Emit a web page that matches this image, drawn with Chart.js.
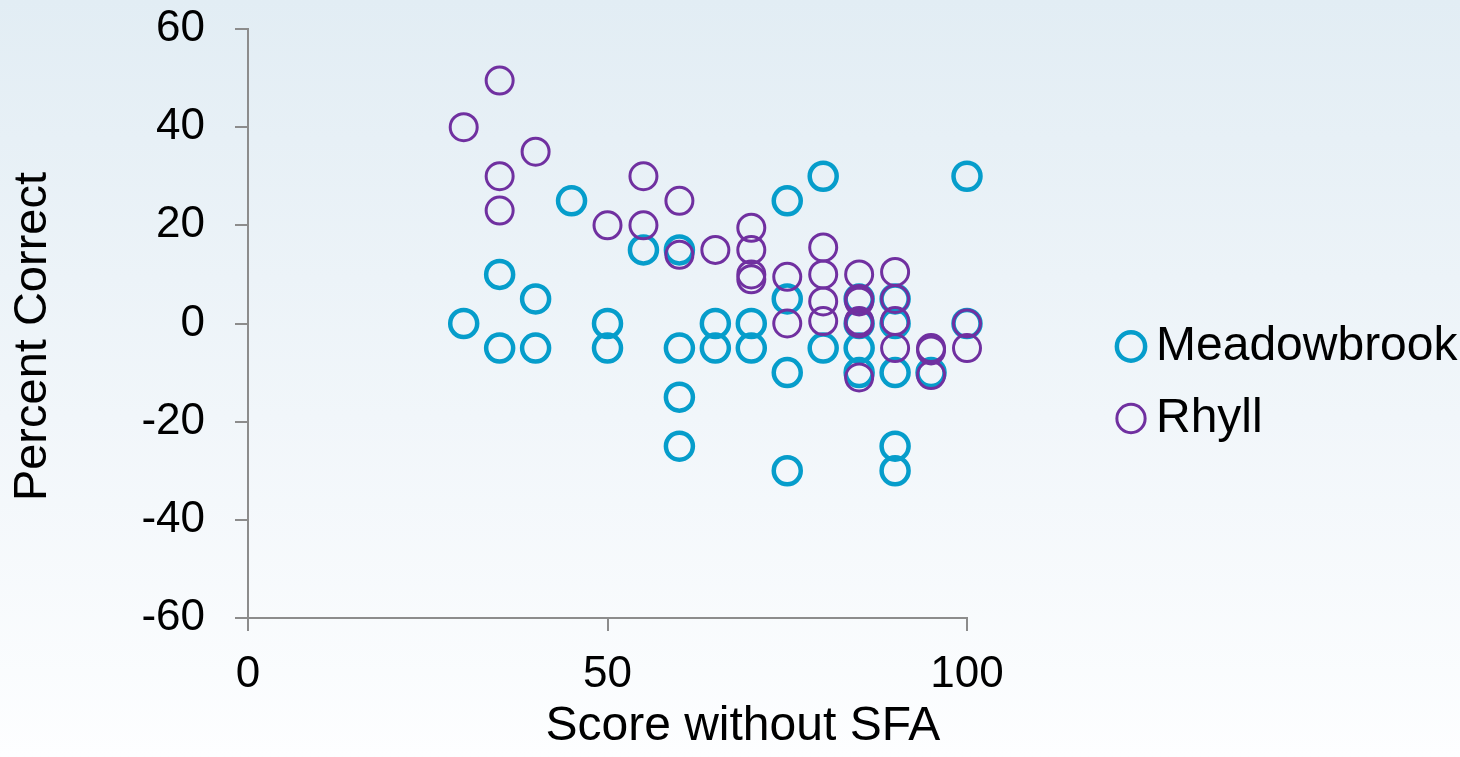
<!DOCTYPE html>
<html>
<head>
<meta charset="utf-8">
<script src="https://cdn.jsdelivr.net/npm/chart.js@4/dist/chart.umd.min.js"></script>
<style>
  html, body { margin: 0; padding: 0; }
  body { width: 1460px; height: 757px; background: linear-gradient(to bottom, #e2edf4 0%, #f1f6fa 55%, #fdfeff 100%); }
  #wrap { position: relative; width: 1460px; height: 757px; }
</style>
</head>
<body>
<div id="wrap"><canvas id="chart"></canvas></div>
<script>
// Score without SFA (x) vs Percent Correct (y)
const meadowX = [30, 35, 35, 40, 40, 45, 50, 50, 55, 60, 60, 60, 60, 65, 65, 70, 70, 75, 75, 75, 75, 80, 80, 85, 85, 85, 85, 90, 90, 90, 90, 90, 95, 100, 100]
const meadowY = [0, 10, -5, 5, -5, 25, 0, -5, 15, 15, -5, -15, -25, 0, -5, 0, -5, 25, 5, -10, -30, 30, -5, 5, 0, -5, -10, 5, 0, -10, -25, -30, -10, 30, 0]
const rhyllX = [30, 35, 35, 35, 40, 50, 55, 55, 60, 60, 65, 70, 70, 70, 70, 75, 75, 80, 80, 80, 80, 85, 85, 85, 85, 85, 85, 90, 90, 90, 90, 95, 95, 95, 100, 100]
const rhyllY = [40, 49.5, 30, 23, 35, 20, 30, 20, 25, 14, 15, 19.5, 15, 10, 9, 9.5, 0, 15.5, 10, 4.5, 0.5, 10, 5, 4.5, 0.5, 0, -11, 10.5, 5, 0.5, -5, -5, -5.5, -10.5, 0, -5]

const seriesNames = ["Meadowbrook", "Rhyll"]
const xTicks = [0, 50, 100]
const yTicks = [-60, -40, -20, 0, 20, 40, 60]

const cyan = "#069dcb"
const purple = "#7030a0"
const axisGray = "#8c8c8c"
const fontFamily = "'Liberation Sans', Arial, sans-serif"

const toPoints = (xs, ys) => xs.map((x, i) => ({x: x, y: ys[i]}))

// legend sits well to the right of the plot, not glued to it
const legendShift = {
	id: 'legendShift',
	afterLayout(chart) {
		const lg = chart.legend
		if (!lg) { return }
		lg.left += 139
		lg.right += 139
	}
}

const ctx = document.getElementById("chart")
let chart = new Chart(ctx, {
	type: 'scatter',
	data: {
		datasets: [
			{
				label: seriesNames[0], data: toPoints(meadowX, meadowY), order: 2, clip: false,
				pointRadius: 13.5, pointHoverRadius: 13.5, pointBorderWidth: 4.5,
				pointBorderColor: cyan, pointBackgroundColor: "rgba(0,0,0,0)",
				borderColor: cyan, backgroundColor: "rgba(0,0,0,0)"
			},
			{
				label: seriesNames[1], data: toPoints(rhyllX, rhyllY), order: 1, clip: false,
				pointRadius: 13.5, pointHoverRadius: 13.5, pointBorderWidth: 3,
				pointBorderColor: purple, pointBackgroundColor: "rgba(0,0,0,0)",
				borderColor: purple, backgroundColor: "rgba(0,0,0,0)"
			}
		]
	},
	plugins: [legendShift],
	options: {
		responsive: true,
		maintainAspectRatio: false,
		animation: false,
		layout: { padding: { top: 8, right: 0, bottom: 0, left: 0 } },
		plugins: {
			tooltip: { enabled: false },
			legend: {
				position: 'right',
				labels: {
					usePointStyle: true,
					boxWidth: 2,
					boxHeight: 20,
					padding: 24,
					color: "#000",
					font: { family: fontFamily, size: 48 },
					sort: (a, b) => a.datasetIndex - b.datasetIndex
				}
			}
		},
		scales: {
			x: {
				type: 'linear',
				min: 0, max: 100,
				afterBuildTicks: s => { s.ticks = xTicks.map(v => ({value: v})) },
				afterFit: s => { s.height = 139; s.paddingRight = 493 },
				grid: { drawOnChartArea: false, tickLength: 13, color: axisGray, lineWidth: 2 },
				border: { color: axisGray, width: 2 },
				ticks: { color: "#000", padding: 17, maxRotation: 0, font: { family: fontFamily, size: 44 } },
				title: { display: true, align: 'end', text: "Score without SFA  ", color: "#000", font: { family: fontFamily, size: 48 }, padding: { top: 4, bottom: 1 } }
			},
			y: {
				type: 'linear',
				min: -60, max: 60,
				afterBuildTicks: s => { s.ticks = yTicks.map(v => ({value: v})) },
				afterFit: s => { s.width = 248; s.paddingTop = 29 },
				grid: { drawOnChartArea: false, tickLength: 13, color: axisGray, lineWidth: 2 },
				border: { color: axisGray, width: 2 },
				ticks: { color: "#000", padding: 30, font: { family: fontFamily, size: 44 } },
				title: { display: true, text: "Percent Correct  ", color: "#000", font: { family: fontFamily, size: 47 }, padding: { top: 5, bottom: 4 } }
			}
		}
	}
})
</script>
</body>
</html>
